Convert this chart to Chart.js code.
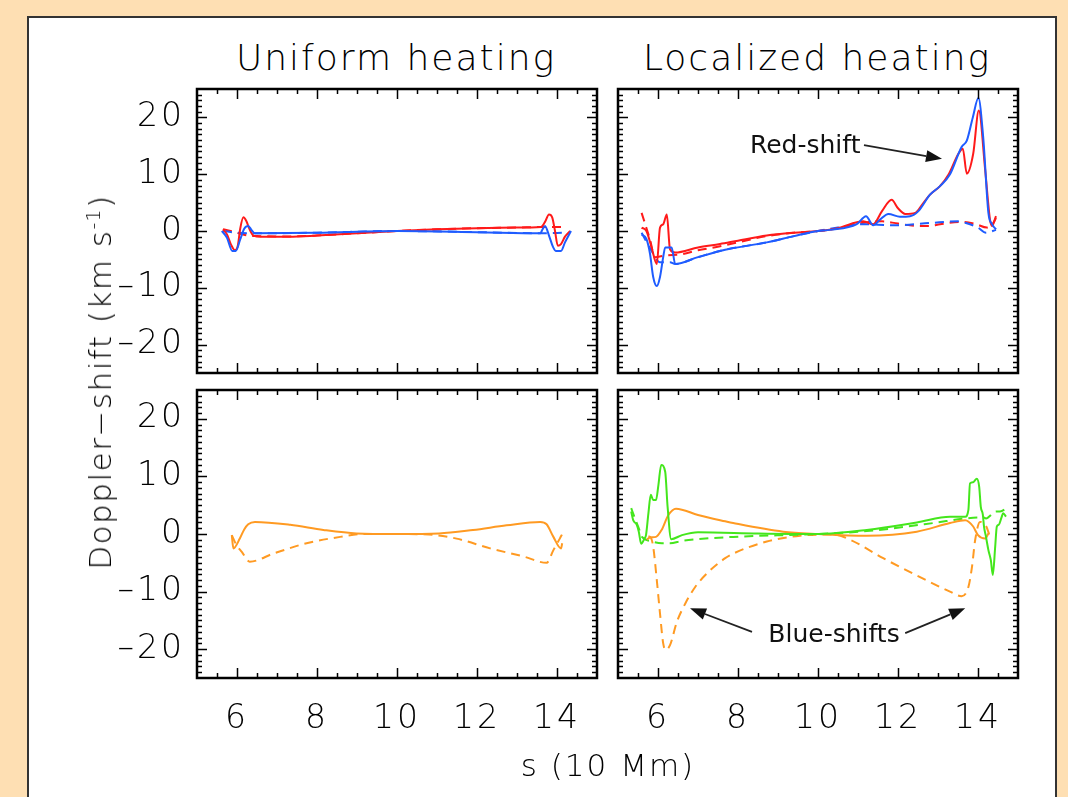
<!DOCTYPE html>
<html>
<head>
<meta charset="utf-8">
<script src="https://cdn.jsdelivr.net/npm/chart.js@4.4.1/dist/chart.umd.min.js"></script>
<style>
  html, body { margin: 0; padding: 0; }
  body { width: 1068px; height: 797px; background: #fedfb3; position: relative; overflow: hidden; font-family: "DejaVu Sans", sans-serif; }
  #sheet { position: absolute; left: 27px; top: 16px; width: 1030px; height: 900px; box-sizing: border-box; background: #fff; border: 2px solid #333; }
  canvas { position: absolute; }
  .lbl { position: absolute; color: #000; font-weight: 200; white-space: nowrap; transform: translate(-50%, -50%); }
  .lbl sup { font-size: 60%; }
</style>
</head>
<body>
<div id="sheet"></div>
<canvas id="tl" width="527" height="300" style="left:80px;top:80px"></canvas>
<canvas id="tr" width="420" height="300" style="left:608px;top:80px"></canvas>
<canvas id="bl" width="527" height="380" style="left:80px;top:381px"></canvas>
<canvas id="br" width="420" height="380" style="left:608px;top:381px"></canvas>
<div class="lbl" style="left:396px;top:57px;font-size:36px;letter-spacing:2px">Uniform heating</div>
<div class="lbl" style="left:817px;top:57px;font-size:36px;letter-spacing:2px">Localized heating</div>
<div class="lbl" style="left:100px;top:382px;font-size:31px;letter-spacing:1.5px;transform:translate(-50%,-50%) rotate(-90deg)">Doppler−shift (km s<sup>-1</sup>)</div>
<div class="lbl" style="left:608px;top:765px;font-size:31px;letter-spacing:2px">s (10 Mm)</div>
<script>
// axis settings
const xTicks = [6, 8, 10, 12, 14]
const yTicks = [-20, -10, 0, 10, 20]

// uniform heating, upper panel
const uniRedSolid = [[5.65,0.3],[5.75,-0.6],[5.85,-2.4],[5.95,-3.4],[6.02,-2.6],[6.08,0.4],[6.16,2.4],[6.23,1.8],[6.32,0.2],[6.41,-0.8],[6.6,-1.0],[7.3,-1.0],[8.0,-0.8],[9.0,-0.4],[10,0],[11,0.3],[12,0.5],[13,0.6],[13.6,0.7],[13.7,1.6],[13.8,2.9],[13.88,2.4],[13.95,0],[14.02,-2.6],[14.1,-2.3],[14.2,-1.0],[14.33,0]]
const uniBlueSolid = [[5.62,0],[5.75,-1.2],[5.88,-3.5],[5.97,-3.5],[6.08,-1.5],[6.18,0.4],[6.28,0.9],[6.36,0.2],[6.45,-0.4],[8,-0.3],[10,0],[12,-0.2],[13.58,-0.4],[13.64,0.3],[13.7,0.9],[13.8,-0.8],[13.9,-2.8],[13.97,-3.5],[14.1,-3.5],[14.2,-2.0],[14.35,0]]
const uniRedDash = [[5.65,0.3],[5.9,-0.1],[6.2,-0.7],[6.5,-0.9],[7.3,-0.95],[8,-0.8],[9,-0.4],[10,0],[11,0.3],[12,0.5],[13,0.6],[13.6,0.7],[14.2,0.7]]
const uniBlueDash = [[5.65,0],[6.0,-0.3],[6.3,-0.4],[6.5,-0.4],[8,-0.3],[10,0],[12,-0.2],[13.6,-0.4],[14.2,-0.3]]

// localized heating, upper panel
const locRedSolid = [[5.59,0.6],[5.71,0.0],[5.84,-2.9],[5.97,-5.8],[6.05,0.6],[6.13,1.2],[6.22,2.9],[6.3,-3.2],[6.43,-3.8],[7.0,-2.9],[7.55,-2.3],[8.0,-1.7],[8.72,-0.8],[9.4,-0.3],[10.0,0.0],[10.5,0.5],[11.13,1.7],[11.38,1.2],[11.6,3.5],[11.84,5.5],[12.0,4.0],[12.18,3.0],[12.43,3.2],[12.6,4.6],[12.8,6.4],[13.05,7.9],[13.26,9.9],[13.51,13.6],[13.62,14.5],[13.72,10.1],[13.88,13.6],[14.02,21.2],[14.18,10.7],[14.3,2.0],[14.35,0.9],[14.45,2.6]]
const locBlueSolid = [[5.59,-0.6],[5.71,-1.4],[5.8,-4.0],[5.88,-8.1],[5.97,-9.7],[6.05,-8.1],[6.13,-4.6],[6.18,-2.9],[6.34,-2.9],[6.43,-5.8],[7.0,-4.6],[7.68,-3.3],[8.72,-2.0],[9.4,-0.9],[10.0,0.0],[10.3,0.2],[10.97,1.2],[11.2,2.6],[11.38,1.0],[11.55,2.0],[11.76,3.0],[12.05,2.5],[12.3,2.6],[12.51,3.5],[12.8,6.4],[13.05,7.9],[13.3,10.0],[13.59,14.8],[13.72,15.9],[13.87,20.0],[14.01,23.4],[14.13,16.5],[14.26,3.2],[14.35,1.2],[14.45,0.3]]
const locRedDash = [[5.59,3.2],[5.68,1.2],[5.8,-1.5],[5.92,-4.6],[6.18,-4.3],[6.59,-4.1],[7.0,-3.4],[7.55,-2.7],[8.0,-2.0],[8.72,-0.9],[9.4,-0.3],[10,0],[10.5,0.5],[11.1,1.4],[11.6,1.7],[12.0,1.3],[12.5,0.9],[12.8,0.9],[13.05,1.2],[13.6,1.6],[13.95,1.2],[14.22,0.6],[14.38,1.4],[14.45,2.3]]
const locBlueDash = [[5.59,-0.3],[5.84,-3.5],[6.05,-5.5],[6.3,-5.5],[6.43,-5.8],[7.0,-4.6],[7.68,-3.3],[8.72,-2.0],[9.4,-0.9],[10,0],[10.5,0.6],[11.1,1.2],[11.9,1.0],[12.8,1.4],[13.5,1.7],[13.7,1.4],[14.0,0.6],[14.2,-0.3],[14.45,0.2]]

// uniform heating, lower panel
const uniOrangeSolid = [[5.87,-0.2],[5.91,-2.5],[6.07,-0.8],[6.18,0.8],[6.28,1.7],[6.45,2.1],[7.33,1.6],[8.16,0.7],[8.99,0.1],[10,0],[11.05,0.1],[11.9,0.7],[12.74,1.5],[13.58,2.1],[13.74,1.7],[13.91,-0.5],[14.1,-2.5],[14.13,-1.6]]
const uniOrangeDash = [[5.87,-0.2],[5.97,-1.7],[6.12,-3.1],[6.32,-4.8],[6.91,-3.4],[7.74,-1.6],[8.58,-0.5],[9.15,0],[10,0],[10.8,-0.1],[11.49,-0.8],[12.33,-2.5],[13.16,-3.9],[13.74,-5.0],[13.91,-2.8],[14.07,-0.8],[14.13,0]]

// localized heating, lower panel
const locGreenSolid = [[5.33,3.9],[5.38,2.4],[5.47,1.6],[5.52,0.4],[5.58,-1.7],[5.66,-0.8],[5.7,-0.2],[5.76,3.6],[5.82,6.8],[5.88,5.9],[5.95,5.9],[6.01,8.5],[6.08,12.0],[6.18,10.8],[6.24,4.7],[6.33,-0.9],[6.6,-0.2],[7.0,0.3],[8.5,0.1],[10,0],[11.22,0.7],[12.47,2.0],[13.3,3.0],[13.68,3.0],[13.76,4.2],[13.8,8.8],[13.88,9.0],[13.97,9.6],[14.03,8.2],[14.07,4.7],[14.12,3.4],[14.15,1.3],[14.2,-0.5],[14.26,-2.8],[14.32,-4.5],[14.37,-7.1],[14.43,-2.2],[14.47,1.3],[14.52,1.6],[14.58,2.7],[14.63,3.6],[14.7,3.0]]
const locGreenDash = [[5.33,4.5],[5.43,2.6],[5.52,1.0],[5.6,-0.5],[5.8,-1.2],[6.1,-1.6],[6.3,-1.6],[6.6,-1.2],[7.0,-0.9],[7.88,-0.5],[10,0],[11.22,0.5],[12.88,1.9],[13.68,2.7],[14.13,2.9],[14.2,2.7],[14.45,3.9],[14.55,3.9],[14.72,4.5]]
const locOrangeSolid = [[5.72,-1.0],[5.8,-0.6],[5.95,-0.5],[6.09,0.7],[6.26,3.3],[6.45,4.4],[7.0,3.3],[7.68,2.2],[7.88,1.9],[9.13,0.4],[10,0],[11.22,-0.3],[12.47,0.4],[13.3,1.9],[13.68,2.4],[13.88,1.3],[14.0,-0.2],[14.18,-0.8],[14.26,0.1]]
const locOrangeDash = [[5.76,-0.4],[5.82,-0.6],[5.88,-2.2],[5.97,-8.0],[6.05,-13.8],[6.13,-19.0],[6.19,-20.1],[6.3,-19.3],[6.47,-15.3],[6.68,-12.1],[6.93,-9.2],[7.26,-6.6],[7.68,-4.2],[7.88,-3.4],[8.72,-1.3],[9.55,-0.3],[10.4,-0.1],[10.8,-1.0],[11.63,-4.2],[12.47,-7.2],[13.3,-10.0],[13.59,-10.8],[13.76,-9.2],[13.85,-5.7],[13.93,-1.0],[14.05,2.1],[14.2,1.4],[14.3,-0.5]]

// annotation anchors, in data units
const redNote = { text: 'Red-shift', at: [9.68, 14.8], arrows: [[[11.15, 15.1], [13.1, 12.7]]] }
const blueNote = { text: 'Blue-shifts', at: [10.4, -17.7], arrows: [[[8.35, -17.0], [6.8, -12.9]], [[12.18, -17.2], [13.68, -12.9]]] }

const RED = '#ff1a1a', BLUE = '#1f5cff', ORANGE = '#ff9a22', GREEN = '#44e61c'
const tickFont = { family: "'DejaVu Sans', sans-serif", size: 33, weight: '200' }

function series(points, color, dashed) {
    return {
        data: points.map(([x, y]) => ({ x, y })),
        borderColor: color,
        borderWidth: 2,
        borderDash: dashed ? [9, 6] : [],
        pointRadius: 0,
        fill: false,
        cubicInterpolationMode: 'monotone'
    }
}

function drawArrow(ctx, x0, y0, x1, y1) {
    let ang = Math.atan2(y1 - y0, x1 - x0)
    let len = 16, half = 6
    let bx = x1 - len * Math.cos(ang), by = y1 - len * Math.sin(ang)
    ctx.beginPath()
    ctx.moveTo(x0, y0)
    ctx.lineTo(bx, by)
    ctx.stroke()
    ctx.beginPath()
    ctx.moveTo(x1, y1)
    ctx.lineTo(bx + half * Math.sin(ang), by - half * Math.cos(ang))
    ctx.lineTo(bx - half * Math.sin(ang), by + half * Math.cos(ang))
    ctx.closePath()
    ctx.fill()
}

// wide IDL-like spacing for the tick numbers
const spacing = {
    id: 'spacing',
    beforeDraw(chart) { chart.ctx.letterSpacing = '3px' }
}

// frame with inward ticks on all four sides (IDL style)
const frameTicks = {
    id: 'frameTicks',
    afterDraw(chart) {
        let { ctx, chartArea: a, scales: { x, y } } = chart
        ctx.save()
        ctx.strokeStyle = '#000'
        ctx.lineWidth = 1.5
        ctx.beginPath()
        for (let v = 5.5; v < 15; v += 0.5) {
            let px = Math.round(x.getPixelForValue(v)) + 0.5
            let len = (v % 2 === 0) ? 10 : 5
            ctx.moveTo(px, a.bottom); ctx.lineTo(px, a.bottom - len)
            ctx.moveTo(px, a.top); ctx.lineTo(px, a.top + len)
        }
        for (let v = -24; v < 25; v += 1) {
            let py = Math.round(y.getPixelForValue(v)) + 0.5
            let len = (v % 10 === 0) ? 10 : 5
            ctx.moveTo(a.left, py); ctx.lineTo(a.left + len, py)
            ctx.moveTo(a.right, py); ctx.lineTo(a.right - len, py)
        }
        ctx.stroke()
        ctx.lineWidth = 2.5
        ctx.strokeRect(a.left, a.top, a.right - a.left, a.bottom - a.top)
        ctx.restore()
    }
}

const notes = {
    id: 'notes',
    afterDatasetsDraw(chart, args, opts) {
        if (!opts.note) return
        let { ctx, scales: { x, y } } = chart
        let n = opts.note
        ctx.save()
        ctx.letterSpacing = '0px'
        ctx.fillStyle = '#111'
        ctx.strokeStyle = '#222'
        ctx.lineWidth = 1.8
        ctx.font = "25px 'DejaVu Sans', sans-serif"
        ctx.textAlign = 'center'
        ctx.textBaseline = 'middle'
        ctx.fillText(n.text, x.getPixelForValue(n.at[0]), y.getPixelForValue(n.at[1]))
        n.arrows.forEach(([from, to]) => {
            drawArrow(ctx, x.getPixelForValue(from[0]), y.getPixelForValue(from[1]),
                x.getPixelForValue(to[0]), y.getPixelForValue(to[1]))
        })
        ctx.restore()
    }
}

function makePanel(id, datasets, showX, showY, pad, note) {
    new Chart(document.getElementById(id), {
        type: 'line',
        data: { datasets: datasets },
        options: {
            responsive: false,
            animation: false,
            layout: { padding: pad },
            plugins: { legend: { display: false }, tooltip: { enabled: false }, notes: { note: note } },
            scales: {
                x: {
                    type: 'linear', min: 5, max: 15, display: showX,
                    grid: { display: false }, border: { display: false },
                    afterBuildTicks: (s) => { s.ticks = xTicks.map(v => ({ value: v })) },
                    afterFit: (s) => {
                        s.height = showX ? 83 : 0
                        s.paddingLeft = 0; s.paddingRight = 0
                    },
                    ticks: { font: tickFont, color: '#000', padding: 14, maxRotation: 0, autoSkip: false }
                },
                y: {
                    type: 'linear', min: -25, max: 25, display: showY,
                    grid: { display: false }, border: { display: false },
                    afterBuildTicks: (s) => { s.ticks = yTicks.map(v => ({ value: v })) },
                    afterFit: (s) => {
                        s.width = showY ? 117 : 0
                        s.paddingTop = 0; s.paddingBottom = 0
                    },
                    ticks: {
                        font: tickFont, color: '#000', padding: 4, autoSkip: false,
                        callback: (v) => v < 0 ? '–' + Math.abs(v) : '' + v
                    }
                }
            }
        },
        plugins: [spacing, notes, frameTicks]
    })
}

makePanel('tl', [
    series(uniBlueSolid, BLUE), series(uniRedSolid, RED),
    series(uniBlueDash, BLUE, true), series(uniRedDash, RED, true)
], false, true, { left: 0, top: 9, right: 10, bottom: 7 })

makePanel('tr', [
    series(locBlueSolid, BLUE), series(locRedSolid, RED),
    series(locBlueDash, BLUE, true), series(locRedDash, RED, true)
], false, false, { left: 10, top: 9, right: 10, bottom: 7 }, redNote)

makePanel('bl', [
    series(uniOrangeSolid, ORANGE), series(uniOrangeDash, ORANGE, true)
], true, true, { left: 0, top: 9, right: 10, bottom: 0 })

makePanel('br', [
    series(locGreenSolid, GREEN), series(locOrangeSolid, ORANGE),
    series(locGreenDash, GREEN, true), series(locOrangeDash, ORANGE, true)
], true, false, { left: 10, top: 9, right: 10, bottom: 0 }, blueNote)
</script>
</body>
</html>
